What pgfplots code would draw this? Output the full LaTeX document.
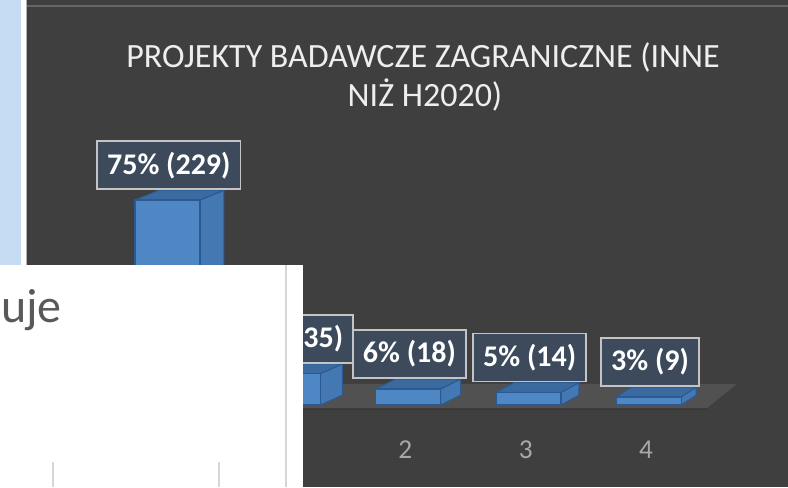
\documentclass[border=0pt]{standalone}
\usepackage{pgfplots}
\pgfplotsset{compat=1.18}
\usepackage{fontspec}
\setmainfont{Carlito}
\definecolor{bgdark}{HTML}{3F3F3F}
\definecolor{floorc}{HTML}{515151}
\definecolor{floorband}{HTML}{383838}
\definecolor{barfront}{HTML}{4F86C4}
\definecolor{barside}{HTML}{4378B3}
\definecolor{bartop}{HTML}{3A6AA0}
\definecolor{baredge}{HTML}{2B5A92}
\definecolor{lblfill}{HTML}{3C4D61}
\definecolor{lblborder}{HTML}{C4C4C4}
\definecolor{titlec}{HTML}{EEEEEE}
\definecolor{tickc}{HTML}{A8A8A8}
\definecolor{stripblue}{HTML}{C5DCF2}
\definecolor{panelline}{HTML}{D6D6D6}
\definecolor{ujec}{HTML}{595959}
\begin{document}
\begin{tikzpicture}[x=0.75pt,y=0.75pt]
\useasboundingbox (0,0) rectangle (788,487);
\clip (0,0) rectangle (788,487);
% backgrounds
\fill[bgdark] (0,0) rectangle (788,487);
\fill[stripblue] (0,222) rectangle (21,487);
\fill[white] (21,222) rectangle (26,487);
\draw[gray!60,line width=0.75pt] (26.5,0) -- (26.5,487);
\draw[gray!80!black,line width=1.5pt] (27,481) -- (788,481);
% title
\node[anchor=base,text=titlec,font=\fontsize{25.5pt}{30pt}\selectfont] at (423,420) {PROJEKTY BADAWCZE ZAGRANICZNE (INNE};
\node[anchor=base,text=titlec,font=\fontsize{25.5pt}{30pt}\selectfont] at (425,381) {NIŻ H2020)};
\begin{axis}[
  at={(0,0)}, anchor=south west,
  width=591pt, height=365.25pt, scale only axis,
  xmin=-1.392, xmax=5.158, ymin=-91.6, ymax=452.5,
  axis line style={draw=none}, tick style={draw=none},
  ytick=\empty,
  xtick={0,1,2,3,4}, xticklabels={0,1,2,3,4},
  xticklabel style={anchor=center, yshift=27.75pt, xshift=-2pt, text=tickc,
     font=\fontsize{20.5pt}{24pt}\selectfont},
  clip=false,
]
% floor
\addplot[fill=floorband, draw=none] coordinates {(-0.561,-3.35) (4.485,-3.35) (4.485,-6) (-0.561,-6)} --cycle;
\addplot[fill=floorc, draw=none] coordinates {(-0.561,-3.35) (4.485,-3.35) (4.734,23.5) (-0.312,23.5)} --cycle;
% side faces
\addplot[fill=barside, draw=baredge, line width=0.75pt] coordinates {(0.27,0) (0.4695,11) (0.4695,240) (0.27,229)} --cycle;
\addplot[fill=barside, draw=baredge, line width=0.75pt] coordinates {(1.27,0) (1.453,11) (1.453,46) (1.27,35)} --cycle;
\addplot[fill=barside, draw=baredge, line width=0.75pt] coordinates {(2.27,0) (2.436,11) (2.436,29) (2.27,18)} --cycle;
\addplot[fill=barside, draw=baredge, line width=0.75pt] coordinates {(3.27,0) (3.42,11) (3.42,25) (3.27,14)} --cycle;
\addplot[fill=barside, draw=baredge, line width=0.75pt] coordinates {(4.27,0) (4.395,11) (4.395,20) (4.27,9)} --cycle;
% top faces
\addplot[fill=bartop, draw=baredge, line width=0.75pt] coordinates {(-0.27,229) (0.27,229) (0.4695,240) (-0.0705,240)} --cycle;
\addplot[fill=bartop, draw=baredge, line width=0.75pt] coordinates {(0.73,35) (1.27,35) (1.453,46) (0.913,46)} --cycle;
\addplot[fill=bartop, draw=baredge, line width=0.75pt] coordinates {(1.73,18) (2.27,18) (2.436,29) (1.896,29)} --cycle;
\addplot[fill=bartop, draw=baredge, line width=0.75pt] coordinates {(2.73,14) (3.27,14) (3.42,25) (2.88,25)} --cycle;
\addplot[fill=bartop, draw=baredge, line width=0.75pt] coordinates {(3.73,9) (4.27,9) (4.395,20) (3.855,20)} --cycle;
% front faces
\addplot[ybar, bar width=0.54, bar shift=0pt, fill=barfront, draw=baredge, line width=1pt]
  coordinates {(0,229) (1,35) (2,18) (3,14) (4,9)};
% data labels
\addplot[draw=none, mark=none, point meta=explicit symbolic,
  nodes near coords,
  every node near coord/.append style={anchor=south, yshift=7.5pt, xshift=1pt,
    fill=lblfill, fill opacity=0.85, text opacity=1, text=white,
    draw=lblborder, line width=1.3pt, inner xsep=7.5pt, minimum height=36pt,
    font=\fontsize{22.5pt}{27pt}\selectfont\bfseries}]
  coordinates {(0,229) [75\%~(229)] (1,35) [11\%~(35)] (2,18) [6\%~(18)] (3,14) [5\%~(14)] (4,9) [3\%~(9)]};
\end{axis}
% overlapping white panel
\fill[white] (0,0) rectangle (303,222);
\draw[panelline,line width=1.5pt] (286,0) -- (286,222);
\draw[panelline,line width=1.5pt] (53,0) -- (53,25);
\draw[panelline,line width=1.5pt] (219,0) -- (219,25);
\node[anchor=base west,text=ujec,inner sep=0pt,font=\fontsize{36pt}{42pt}\selectfont] at (1,165) {uje};
\end{tikzpicture}
\end{document}
